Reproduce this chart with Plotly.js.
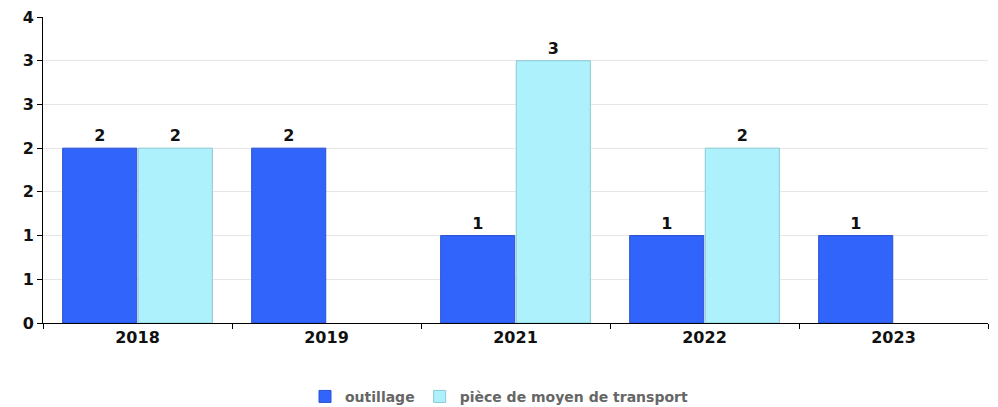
<!DOCTYPE html>
<html><head><meta charset="utf-8">
<script src="https://cdn.plot.ly/plotly-3.0.1.min.js"></script>
<style>html,body{margin:0;padding:0;background:#fff}</style>
</head><body>
<div id="chart" style="width:998px;height:407px"></div>
<script>
const categories = ["2018", "2019", "2021", "2022", "2023"];
const outillage = [2, 2, 1, 1, 1];
const transport = [2, null, 3, 2, null];
const seriesNames = ["outillage", "pièce de moyen de transport"];
const yTickVals = [0, 0.5, 1, 1.5, 2, 2.5, 3, 3.5];
const yTickText = ["0", "1", "1", "2", "2", "3", "3", "4"];

const bold = {family: "DejaVu Sans", size: 16, color: "#111", weight: "bold"};
function lbl(v){ return v.map(x => x == null ? "" : String(x)); }

const traces = [
  {type: "bar", name: seriesNames[0], x: categories, y: outillage,
   text: lbl(outillage), textposition: "outside", cliponaxis: false,
   textfont: bold,
   marker: {color: "#3164fb", line: {color: "#2a50d0", width: 1}}},
  {type: "bar", name: seriesNames[1], x: categories, y: transport,
   text: lbl(transport), textposition: "outside", cliponaxis: false,
   textfont: bold,
   marker: {color: "#adf1fc", line: {color: "#8cc9d3", width: 1}}}
];

const layout = {
  width: 998, height: 407,
  margin: {l: 43, r: 10, t: 17, b: 84, autoexpand: false},
  paper_bgcolor: "#fff", plot_bgcolor: "#fff",
  barmode: "group", bargap: 0.2, bargroupgap: 0.02,
  showlegend: true,
  legend: {orientation: "h", x: 0.5, xref: "container", xanchor: "center",
           y: 0.025, yref: "container", yanchor: "middle",
           font: {family: "DejaVu Sans", size: 14, color: "#666", weight: "bold"},
           itemwidth: 30},
  xaxis: {type: "category", tickson: "boundaries", ticks: "outside", ticklen: 5,
          tickcolor: "#000", showline: true, linecolor: "#000", linewidth: 1,
          showgrid: false, tickfont: bold, automargin: false},
  yaxis: {range: [0, 3.5], tickvals: yTickVals, ticktext: yTickText,
          ticks: "outside", ticklen: 5, tickcolor: "#000",
          showline: true, linecolor: "#000", linewidth: 1,
          gridcolor: "#e6e6e6", zeroline: false, tickfont: bold, automargin: false}
};
Plotly.newPlot("chart", traces, layout, {displayModeBar: false, staticPlot: true});
</script>
</body></html>
